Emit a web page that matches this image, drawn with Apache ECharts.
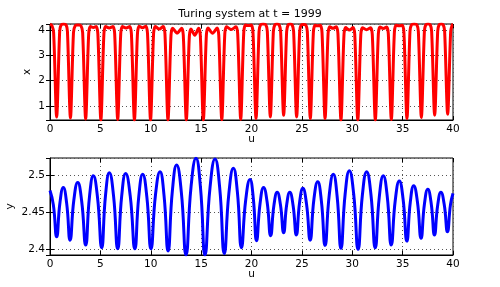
<!DOCTYPE html>
<html>
<head>
<meta charset="utf-8">
<script src="https://cdn.jsdelivr.net/npm/echarts@6/dist/echarts.min.js"></script>
<style>
html,body{margin:0;padding:0;background:#fff;}
#main{width:500px;height:287px;}
</style>
</head>
<body>
<div id="main"></div>
<script>
const titleText = 'Turing system at t = 1999';
const uTicks = [0, 5, 10, 15, 20, 25, 30, 35, 40];
const xRange = [0.45, 4.24];
const yRange = [2.392, 2.523];

// x(u) : red curve, [u, x]
const redSeries = [
  [0, 4.23], [0.19, 4.18], [0.36, 3.9], [0.66, 0.57],
  [0.96, 3.95], [1.1, 4.2], [1.345, 4.24], [1.6, 4.2], [1.73, 3.95], [2.03, 0.53],
  [2.33, 3.9], [2.5, 4.17], [2.78, 4.2], [3.07, 4.17], [3.24, 3.9], [3.54, 0.49],
  [3.84, 3.85], [4.01, 4.14], [4.3, 4.1], [4.58, 4.14], [4.75, 3.85], [5.05, 0.45],
  [5.35, 3.85], [5.52, 4.14], [5.885, 4.08], [6.25, 4.14], [6.42, 3.85], [6.72, 0.47],
  [7.02, 3.85], [7.19, 4.14], [7.55, 4.08], [7.91, 4.14], [8.08, 3.85], [8.38, 0.45],
  [8.68, 3.85], [8.85, 4.15], [9.18, 4.09], [9.51, 4.15], [9.68, 3.85], [9.98, 0.45],
  [10.28, 3.85], [10.45, 4.14], [10.845, 4.04], [11.24, 4.14], [11.41, 3.85], [11.71, 0.45],
  [12.01, 3.8], [12.18, 4.07], [12.62, 3.88], [13.06, 4.07], [13.23, 3.8], [13.53, 0.45],
  [13.83, 3.75], [14.0, 4.04], [14.375, 3.8], [14.75, 4.07], [14.92, 3.8], [15.22, 0.45],
  [15.52, 3.8], [15.69, 4.08], [16.135, 3.87], [16.58, 4.08], [16.75, 3.8], [17.05, 0.46],
  [17.35, 3.85], [17.52, 4.13], [17.99, 4.02], [18.46, 4.13], [18.63, 3.85], [18.93, 0.48],
  [19.23, 3.9], [19.4, 4.2], [19.69, 4.18], [19.98, 4.2], [20.15, 3.9], [20.45, 0.51],
  [20.75, 3.95], [20.9, 4.21], [21.16, 4.24], [21.42, 4.21], [21.57, 3.95], [21.87, 0.57],
  [22.17, 3.95], [22.32, 4.21], [22.53, 4.24], [22.74, 4.21], [22.89, 3.95], [23.19, 0.64],
  [23.49, 3.95], [23.64, 4.21], [23.835, 4.24], [24.03, 4.21], [24.18, 3.95], [24.48, 0.57],
  [24.78, 3.95], [24.93, 4.2], [25.16, 4.22], [25.39, 4.2], [25.54, 3.95], [25.84, 0.51],
  [26.14, 3.9], [26.31, 4.19], [26.57, 4.17], [26.83, 4.19], [27.0, 3.9], [27.3, 0.51],
  [27.6, 3.85], [27.77, 4.13], [28.09, 4.07], [28.41, 4.13], [28.58, 3.85], [28.88, 0.45],
  [29.18, 3.82], [29.35, 4.1], [29.715, 4.0], [30.08, 4.1], [30.25, 3.82], [30.55, 0.45],
  [30.85, 3.82], [31.02, 4.09], [31.42, 4.01], [31.82, 4.09], [31.99, 3.82], [32.29, 0.45],
  [32.59, 3.85], [32.76, 4.12], [33.085, 4.06], [33.41, 4.12], [33.58, 3.85], [33.88, 0.47],
  [34.18, 3.9], [34.35, 4.19], [34.655, 4.17], [34.96, 4.19], [35.13, 3.9], [35.43, 0.51],
  [35.73, 3.95], [35.88, 4.21], [36.145, 4.24], [36.41, 4.21], [36.56, 3.95], [36.86, 0.55],
  [37.16, 3.95], [37.3, 4.21], [37.52, 4.24], [37.74, 4.21], [37.88, 3.95], [38.18, 0.64],
  [38.48, 3.95], [38.62, 4.21], [38.825, 4.24], [39.03, 4.21], [39.17, 3.95], [39.47, 0.68],
  [39.77, 3.95], [39.92, 4.2], [40, 4.22]
];

// y(u) : blue curve, [u, y]
const blueSeries = [
  [0, 2.479], [0.33, 2.460], [0.66, 2.4166], [0.99, 2.463], [1.32, 2.483],
  [1.655, 2.4617], [1.99, 2.412], [2.37, 2.4666], [2.75, 2.490],
  [3.145, 2.4646], [3.54, 2.4054], [3.92, 2.4709], [4.30, 2.499],
  [4.715, 2.4698], [5.13, 2.4018], [5.51, 2.4726], [5.89, 2.503],
  [6.305, 2.4722], [6.72, 2.4004], [7.115, 2.4715], [7.51, 2.502],
  [7.965, 2.4715], [8.42, 2.4004], [8.81, 2.4708], [9.2, 2.501],
  [9.61, 2.4708], [10.02, 2.4004], [10.47, 2.4733], [10.92, 2.5045],
  [11.32, 2.4723], [11.72, 2.3973], [12.145, 2.4786], [12.57, 2.5135],
  [13.035, 2.477], [13.5, 2.392], [13.995, 2.4834], [14.49, 2.5226],
  [14.935, 2.4834], [15.38, 2.392], [15.88, 2.4827], [16.38, 2.5216],
  [16.84, 2.4833], [17.3, 2.394], [17.75, 2.4745], [18.2, 2.509],
  [18.6, 2.4768], [19.0, 2.4018], [19.425, 2.4663], [19.85, 2.494],
  [20.175, 2.4692], [20.5, 2.4112], [20.85, 2.4615], [21.2, 2.483],
  [21.55, 2.4635], [21.9, 2.418], [22.225, 2.459], [22.55, 2.4766],
  [22.87, 2.4602], [23.19, 2.422], [23.495, 2.4602], [23.8, 2.4766],
  [24.125, 2.4593], [24.45, 2.419], [24.775, 2.4631], [25.1, 2.482],
  [25.46, 2.461], [25.82, 2.412], [26.195, 2.4673], [26.57, 2.491],
  [26.935, 2.4652], [27.3, 2.405], [27.71, 2.4722], [28.12, 2.501],
  [28.5, 2.471], [28.88, 2.401], [29.295, 2.4744], [29.71, 2.5059],
  [30.145, 2.474], [30.58, 2.3996], [31.005, 2.473], [31.43, 2.5045],
  [31.855, 2.4737], [32.28, 2.4018], [32.68, 2.4698], [33.08, 2.499],
  [33.475, 2.4709], [33.87, 2.4054], [34.27, 2.466], [34.67, 2.492],
  [35.045, 2.4676], [35.42, 2.4108], [35.76, 2.4632], [36.1, 2.4856],
  [36.465, 2.4643], [36.83, 2.4145], [37.165, 2.4608], [37.5, 2.4807],
  [37.83, 2.4622], [38.16, 2.419], [38.48, 2.4593], [38.8, 2.4766],
  [39.125, 2.4606], [39.45, 2.4234], [39.75, 2.46], [40, 2.4752]
];

const FONT = 'DejaVu Sans';
const txt = {color: '#000', fontFamily: FONT, fontSize: 10.5};
const grid0 = {left: 50, top: 24, width: 403, height: 96, show: true, borderColor: '#000', borderWidth: 1,
  backgroundColor: '#fff', containLabel: false, outerBoundsMode: 'none'};
const grid1 = {left: 50, top: 158, width: 403, height: 97, show: true, borderColor: '#000', borderWidth: 1,
  backgroundColor: '#fff', containLabel: false, outerBoundsMode: 'none'};
const dotted = {show: true, lineStyle: {type: [1, 3], color: '#555', width: 1}};

function xMain(gi) {
  return {
    gridIndex: gi, type: 'value', position: 'bottom',
    min: uTicks[0], max: uTicks[uTicks.length - 1], interval: uTicks[1] - uTicks[0],
    axisLine: {show: true, lineStyle: {color: '#000', width: 1}},
    axisTick: {show: true, inside: true, length: 4, lineStyle: {color: '#000'}},
    axisLabel: Object.assign({margin: 4}, txt),
    splitLine: dotted,
    name: 'u', nameLocation: 'middle', nameGap: 14, nameMoveOverlap: false,
    nameTextStyle: Object.assign({}, txt)
  };
}
function xMirror(gi) {
  return {
    gridIndex: gi, type: 'value', position: 'top',
    min: uTicks[0], max: uTicks[uTicks.length - 1], interval: uTicks[1] - uTicks[0],
    axisLine: {show: false},
    axisTick: {show: true, inside: true, length: 4, lineStyle: {color: '#000'}},
    axisLabel: {show: false}, splitLine: {show: false}
  };
}
function yMain(gi, range, split, name, gap) {
  return {
    gridIndex: gi, type: 'value', position: 'left',
    min: range[0], max: range[1], splitNumber: split,
    axisLine: {show: true, lineStyle: {color: '#000', width: 1}},
    axisTick: {show: true, inside: true, length: 4, lineStyle: {color: '#000'}},
    axisLabel: Object.assign({margin: 5, showMinLabel: false, showMaxLabel: false}, txt),
    splitLine: dotted,
    name: name, nameLocation: 'middle', nameGap: gap, nameMoveOverlap: false,
    nameTextStyle: Object.assign({}, txt)
  };
}
function yMirror(gi, range, split) {
  return {
    gridIndex: gi, type: 'value', position: 'right',
    min: range[0], max: range[1], splitNumber: split,
    axisLine: {show: false},
    axisTick: {show: true, inside: true, length: 4, lineStyle: {color: '#000'}},
    axisLabel: {show: false}, splitLine: {show: false}
  };
}

const chart = echarts.init(document.getElementById('main'), null, {renderer: 'canvas'});
chart.setOption({
  animation: false,
  backgroundColor: '#fff',
  title: {text: titleText, left: 'center', top: 4,
    textStyle: {color: '#000', fontFamily: FONT, fontSize: 11, fontWeight: 'normal'}},
  grid: [grid0, grid1],
  xAxis: [xMain(0), xMain(1), xMirror(0), xMirror(1)],
  yAxis: [yMain(0, xRange, 4, 'x', 17), yMain(1, yRange, 3, 'y', 34),
          yMirror(0, xRange, 4), yMirror(1, yRange, 3)],
  series: [
    {type: 'line', xAxisIndex: 0, yAxisIndex: 0, data: redSeries, showSymbol: false,
     smooth: 0.3, lineStyle: {color: '#ff0000', width: 3}, itemStyle: {color: '#ff0000'}},
    {type: 'line', xAxisIndex: 1, yAxisIndex: 1, data: blueSeries, showSymbol: false,
     smooth: 0.5, lineStyle: {color: '#0000ff', width: 3}, itemStyle: {color: '#0000ff'}}
  ]
});
</script>
</body>
</html>
